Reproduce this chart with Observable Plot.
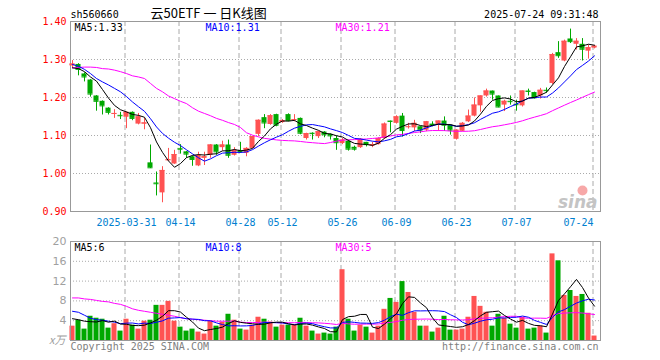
<!DOCTYPE html>
<html><head><meta charset="utf-8">
<script src="https://cdn.jsdelivr.net/npm/d3@7"></script>
<script src="https://cdn.jsdelivr.net/npm/@observablehq/plot@0.6"></script>
<style>
body{margin:0;background:#fff}
#wrap{position:relative;width:660px;height:360px;overflow:hidden;background:#fff}
#wrap svg{position:absolute;left:0}
</style></head>
<body><div id="wrap"></div>
<script>
const code = "sh560660";
const title = "云50ETF 一 日K线图";
const stamp = "2025-07-24 09:31:48";
const dateTickIdx = [9, 18, 28, 35, 45, 54, 64, 74, 87];
const dateTickLabels = ["2025-03-31","04-14","04-28","05-12","05-26","06-09","06-23","07-07","07-24"];
const priceTicks = [0.9, 1.0, 1.1, 1.2, 1.3, 1.4];
const volTicks = [4, 8, 12, 16, 20];
const priceLegend = ["MA5:1.33", "MA10:1.31", "MA30:1.21"];
const volLegend = ["MA5:6", "MA10:8", "MA30:5"];

const opens = [1.283,1.287,1.262,1.246,1.204,1.190,1.172,1.156,1.153,1.148,
1.161,1.130,1.130,1.028,0.975,0.949,1.034,1.025,1.066,1.057,
1.044,1.020,1.040,1.048,1.075,1.068,1.075,1.048,1.059,1.053,
1.066,1.103,1.147,1.129,1.155,1.134,1.155,1.140,1.145,1.092,
1.106,1.097,1.109,1.103,1.092,1.079,1.085,1.069,1.068,1.082,
1.072,1.076,1.092,1.138,1.132,1.151,1.122,1.120,1.123,1.114,
1.130,1.127,1.138,1.127,1.090,1.111,1.136,1.151,1.178,1.204,
1.217,1.204,1.180,1.190,1.182,1.178,1.217,1.213,1.204,1.219,
1.237,1.318,1.296,1.354,1.340,1.340,1.322,1.330];
const highs = [1.297,1.289,1.265,1.247,1.205,1.191,1.173,1.168,1.161,1.162,
1.162,1.158,1.145,1.075,1.004,1.018,1.066,1.061,1.076,1.058,
1.046,1.056,1.056,1.076,1.076,1.085,1.088,1.068,1.082,1.068,
1.098,1.141,1.155,1.155,1.156,1.142,1.157,1.155,1.146,1.106,
1.107,1.111,1.110,1.104,1.099,1.092,1.088,1.072,1.092,1.082,
1.082,1.094,1.133,1.138,1.152,1.158,1.132,1.140,1.123,1.137,
1.136,1.138,1.149,1.128,1.115,1.134,1.167,1.199,1.204,1.222,
1.217,1.204,1.193,1.204,1.193,1.217,1.222,1.214,1.224,1.225,
1.316,1.347,1.351,1.380,1.355,1.355,1.338,1.337];
const lows = [1.276,1.257,1.241,1.201,1.164,1.154,1.154,1.145,1.142,1.118,
1.139,1.128,1.115,1.013,0.941,0.923,1.033,1.024,1.051,1.040,
1.019,1.018,1.021,1.040,1.048,1.059,1.040,1.046,1.053,1.044,
1.065,1.097,1.118,1.127,1.123,1.132,1.136,1.136,1.102,1.088,
1.088,1.092,1.094,1.088,1.061,1.076,1.059,1.059,1.066,1.070,
1.068,1.075,1.090,1.107,1.130,1.096,1.117,1.110,1.105,1.110,
1.123,1.111,1.111,1.101,1.088,1.110,1.134,1.149,1.161,1.201,
1.193,1.173,1.163,1.180,1.164,1.175,1.204,1.196,1.196,1.211,
1.234,1.303,1.294,1.342,1.325,1.296,1.301,1.328];
const closes = [1.288,1.274,1.254,1.209,1.190,1.178,1.161,1.158,1.152,1.161,
1.145,1.149,1.133,1.015,0.973,1.008,1.036,1.050,1.064,1.051,
1.037,1.047,1.044,1.075,1.057,1.075,1.048,1.061,1.058,1.066,
1.097,1.140,1.133,1.152,1.127,1.139,1.139,1.142,1.106,1.105,
1.105,1.110,1.102,1.099,1.081,1.088,1.064,1.064,1.090,1.076,
1.076,1.092,1.130,1.137,1.149,1.113,1.123,1.132,1.114,1.136,
1.129,1.138,1.127,1.114,1.114,1.132,1.151,1.180,1.204,1.217,
1.209,1.175,1.190,1.189,1.181,1.217,1.216,1.199,1.219,1.218,
1.313,1.310,1.348,1.347,1.348,1.327,1.331,1.335];
const volumes = [2.9,4.1,2.3,4.9,4.5,4.3,2.5,3.4,1.9,4.3,
3.1,2.3,3.9,4.1,7.1,7.1,7.9,3.9,2.7,1.9,
2.3,1.7,1.3,3.9,2.9,3.7,5.3,4.1,2.3,2.1,
3.1,4.7,4.3,3.7,2.7,3.1,3.1,3.1,4.5,2.9,
1.9,1.3,1.5,1.3,2.7,14.3,4.3,1.9,3.1,2.7,
1.5,2.9,6.3,8.5,7.7,11.9,9.7,5.7,2.9,2.9,
1.7,2.5,4.9,2.1,2.1,2.3,4.7,8.9,6.9,5.7,
2.9,5.3,4.5,3.3,2.5,4.7,2.3,2.5,2.9,1.5,
17.5,16.1,9.1,10.1,8.9,9.3,5.5,0.9];

// moving-average values for the first days (window reaches before the visible range)
const priceMa5Head = [1.278,1.276,1.268,1.254];
const priceMa10Head = [1.287,1.282,1.274,1.263,1.250,1.241,1.233,1.224,1.215];
const priceMa30Head = [1.278,1.279,1.280,1.280,1.279,1.276,1.275,1.272,1.268,1.263,
1.257,1.254,1.250,1.237,1.224,1.215,1.204,1.197,1.190,1.184,
1.173,1.164,1.158,1.152,1.145,1.140,1.134,1.129,1.121];
const volMa5Head = [4.4,4.2,3.9,3.8];
const volMa10Head = [5.9,5.7,5.1,4.5,4.2,4.1,3.9,3.7,3.4];
const volMa30Head = [8.6,8.6,8.4,8.3,8.1,7.9,7.8,7.5,7.3,6.9,
6.4,6.1,5.9,5.7,5.5,5.3,5.1,4.9,4.6,4.4,
4.3,4.2,4.1,4.0,3.9,3.9,3.9,3.9,3.7];

const UP = "#ff5252", DOWN = "#00a800";
const GRID = "#aaaaaa";
const MONO = "DejaVu Sans Mono";

function movingAvg(values, n, head) {
  return values.map((v, i) => i < head.length ? head[i] : d3.mean(values.slice(i - n + 1, i + 1)));
}
const idx = d3.range(closes.length);
const pMa5 = movingAvg(closes, 5, priceMa5Head);
const pMa10 = movingAvg(closes, 10, priceMa10Head);
const pMa30 = movingAvg(closes, 30, priceMa30Head);
const vMa5 = movingAvg(volumes, 5, volMa5Head);
const vMa10 = movingAvg(volumes, 10, volMa10Head);
const vMa30 = movingAvg(volumes, 30, volMa30Head);

const days = idx.map(i => ({
  k: i, open: opens[i], high: highs[i], low: lows[i], close: closes[i], vol: volumes[i],
  up: closes[i] >= opens[i],
  ma5: pMa5[i], ma10: pMa10[i], ma30: pMa30[i],
  vma5: vMa5[i], vma10: vMa10[i], vma30: vMa30[i]
}));
const color = d => d.up ? UP : DOWN;
const ticks = dateTickIdx.map((k, i) => ({k, label: dateTickLabels[i], last: i === dateTickIdx.length - 1}));
const xDomain = [-1/3, 88];
const bw = 0.42;

const price = Plot.plot({
  width: 660, height: 232,
  marginLeft: 70, marginRight: 60, marginTop: 21, marginBottom: 21,
  x: {domain: xDomain, axis: null},
  y: {domain: [0.9, 1.4], axis: null},
  style: {fontFamily: MONO, fontSize: "10px", background: "transparent", overflow: "visible"},
  marks: [
    Plot.ruleY(priceTicks.slice(1, -1), {stroke: GRID, strokeDasharray: "1,2"}),
    Plot.ruleX(ticks, {x: d => d.k - 0.25, stroke: GRID, strokeDasharray: "5,3"}),
    Plot.dot([null], {frameAnchor: "bottom-right", dx: -18, dy: -21, r: 5, fill: "#f7a8a8", stroke: "none"}),
    Plot.text(["sina"], {frameAnchor: "bottom-right", dx: -3, dy: -4, textAnchor: "end", lineAnchor: "bottom", fill: "#c4c4c4", fontSize: 17, fontStyle: "italic", fontWeight: "bold", fontFamily: "DejaVu Sans"}),
    Plot.frame({stroke: "#999"}),
    Plot.ruleX(days, {x: "k", y1: "low", y2: "high", stroke: color}),
    Plot.rect(days, {x1: d => d.k - bw, x2: d => d.k + bw, y1: "open", y2: "close", fill: color}),
    Plot.ruleY(days, {x1: d => d.k - bw, x2: d => d.k + bw, y: "close", stroke: color}),
    Plot.line(days, {x: "k", y: "ma30", stroke: "#ff00ff", strokeWidth: 1}),
    Plot.line(days, {x: "k", y: "ma10", stroke: "#0000ff", strokeWidth: 1}),
    Plot.line(days, {x: "k", y: "ma5", stroke: "#000000", strokeWidth: 1}),
    Plot.axisY({ticks: priceTicks, tickFormat: d3.format(".2f"), tickSize: 0, tickPadding: 4, fill: "#ff0000", fontFamily: MONO, fontSize: 10}),
    Plot.text(ticks.filter(d => !d.last), {x: "k", text: "label", frameAnchor: "bottom", dy: 11, fill: "#0080d0", lineAnchor: "middle"}),
    Plot.text(ticks.filter(d => d.last), {x: "k", text: "label", frameAnchor: "bottom", dy: 11, dx: -1, textAnchor: "end", fill: "#0080d0", lineAnchor: "middle"}),
    Plot.text([code], {frameAnchor: "top-left", dy: -4, lineAnchor: "bottom", textAnchor: "start", fill: "#000"}),
    Plot.text([title], {frameAnchor: "top-left", dx: 80, dy: -4, lineAnchor: "bottom", textAnchor: "start", fill: "#000", fontFamily: "Noto Sans CJK SC", fontSize: 13}),
    Plot.text([stamp], {frameAnchor: "top-right", dx: -2, dy: -4, lineAnchor: "bottom", textAnchor: "end", fill: "#000"}),
    Plot.text([priceLegend[0]], {frameAnchor: "top-left", dx: 4, dy: 9, lineAnchor: "bottom", textAnchor: "start", fill: "#000"}),
    Plot.text([priceLegend[1]], {frameAnchor: "top-left", dx: 135, dy: 9, lineAnchor: "bottom", textAnchor: "start", fill: "#0000ff"}),
    Plot.text([priceLegend[2]], {frameAnchor: "top-left", dx: 265, dy: 9, lineAnchor: "bottom", textAnchor: "start", fill: "#ff00ff"})
  ]
});
price.style.top = "0px";

const volume = Plot.plot({
  width: 660, height: 128,
  marginLeft: 70, marginRight: 60, marginTop: 9, marginBottom: 20,
  x: {domain: xDomain, axis: null},
  y: {domain: [0, 20], axis: null},
  style: {fontFamily: MONO, fontSize: "10px", background: "transparent", overflow: "visible"},
  marks: [
    Plot.ruleY(volTicks.slice(0, -1), {stroke: GRID, strokeDasharray: "1,2"}),
    Plot.ruleX(ticks, {x: d => d.k - 0.25, stroke: GRID, strokeDasharray: "5,3"}),
    Plot.rect(days, {x1: d => d.k - bw, x2: d => d.k + bw, y1: d => 0, y2: "vol", fill: color}),
    Plot.frame({stroke: "#999"}),
    Plot.line(days, {x: "k", y: "vma30", stroke: "#ff00ff", strokeWidth: 1}),
    Plot.line(days, {x: "k", y: "vma10", stroke: "#0000ff", strokeWidth: 1}),
    Plot.line(days, {x: "k", y: "vma5", stroke: "#000000", strokeWidth: 1}),
    Plot.axisY({ticks: volTicks, tickSize: 0, tickPadding: 4, fill: "#a0a0a0", fontFamily: "DejaVu Sans", fontSize: 11}),
    Plot.text(["x万"], {frameAnchor: "bottom-left", dx: -5, textAnchor: "end", lineAnchor: "middle", fill: "#a0a0a0", fontFamily: "Noto Sans CJK SC", fontSize: 11, fontStyle: "italic"}),
    Plot.text([volLegend[0]], {frameAnchor: "top-left", dx: 4, dy: 9, lineAnchor: "bottom", textAnchor: "start", fill: "#000"}),
    Plot.text([volLegend[1]], {frameAnchor: "top-left", dx: 135, dy: 9, lineAnchor: "bottom", textAnchor: "start", fill: "#0000ff"}),
    Plot.text([volLegend[2]], {frameAnchor: "top-left", dx: 265, dy: 9, lineAnchor: "bottom", textAnchor: "start", fill: "#ff00ff"}),
    Plot.text(["Copyright 2025 SINA.COM"], {frameAnchor: "bottom-left", dy: 9, lineAnchor: "bottom", textAnchor: "start", fill: "#808080"}),
    Plot.text(["http://finance.sina.com.cn"], {frameAnchor: "bottom-right", dx: -2, dy: 9, lineAnchor: "bottom", textAnchor: "end", fill: "#808080"})
  ]
});
volume.style.top = "232px";

const wrap = document.getElementById("wrap");
wrap.appendChild(price);
wrap.appendChild(volume);
</script>
</body></html>
